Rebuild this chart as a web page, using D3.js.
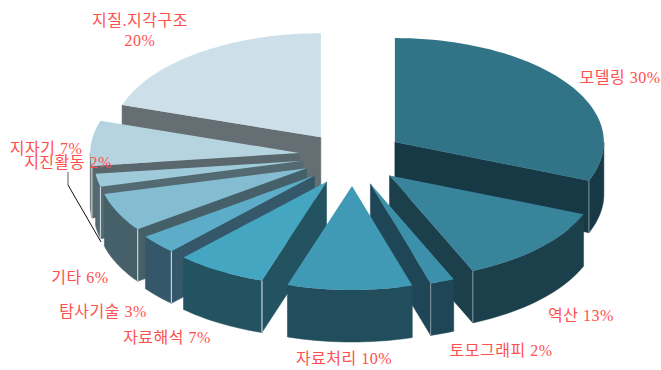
<!DOCTYPE html>
<html lang="ko">
<head>
<meta charset="utf-8">
<style>
  html, body { margin: 0; padding: 0; background: #fff; }
  svg { display: block; }
  text { font-family: "Liberation Serif", "Noto Sans CJK KR", serif; font-size: 16px; letter-spacing: 0.5px; fill: #ff4f4f; text-anchor: middle; }
</style>
</head>
<body>
<svg id="chart" width="661" height="370"></svg>
<script src="https://cdn.jsdelivr.net/npm/d3@7/dist/d3.min.js"></script>
<script>
// Survey topics and their shares, clockwise from twelve o'clock
const topics = ["모델링", "역산", "토모그래피", "자료처리", "자료해석", "탐사기술", "기타", "지진활동", "지자기", "지질.지각구조"];
const shares = [30, 13, 2, 10, 7, 3, 6, 2, 7, 20];

// Face colours per slice
const topColors  = ["#327487", "#38849b", "#3d90a9", "#419ab5", "#45a6c1", "#5dadc8", "#84bcd1", "#9ecad9", "#b6d4e0", "#cddfe8"];
const wallColors = ["#173945", "#1b3f4b", "#1f4656", "#214d5c", "#235360", "#34586a", "#466069", "#536a72", "#5a686d", "#646e73"];

// Label anchors: middle of the text and its baseline
const labelX = [620, 581, 501, 344, 167, 103, 80, 68, 46, 140];
const labelY = [83, 321, 356, 364, 343, 317, 283, 168, 154, 26];

// Projection of the tilted pie
const center = { x: 352, y: 155 };
const radiusX = 209, radiusY = 104, depth = 52;
const explodeXBack = 53, explodeXFront = 50, explodeFront = 31, explodeBack = 22;
const rimSkew = 4 * Math.PI / 180;

const svg = d3.select("#chart");
const slices = d3.pie().sort(null).startAngle(0).endAngle(2 * Math.PI)(shares);

const rimStep = Math.PI / 90;
const line = d3.line();

function apexOf(s) {
  const mid = (s.startAngle + s.endAngle) / 2;
  const c = Math.cos(mid);
  return {
    x: center.x + (c > 0 ? explodeXBack : explodeXFront) * Math.sin(mid),
    y: center.y - (c > 0 ? explodeBack : explodeFront) * c
  };
}
// The right half of the rim is slightly skewed by the tilt of the pie
function rimPoint(apex, a, drop = 0) {
  const t = a < Math.PI ? a + rimSkew * Math.sin(a) : a;
  return [apex.x + radiusX * Math.sin(t), apex.y - radiusY * Math.cos(t) + drop];
}
function rimAngles(a0, a1) {
  const n = Math.max(1, Math.ceil((a1 - a0) / rimStep));
  return d3.range(n + 1).map(i => a0 + (a1 - a0) * i / n);
}

// Paint back to front
const order = d3.range(slices.length).sort((i, j) => {
  const mi = (slices[i].startAngle + slices[i].endAngle) / 2;
  const mj = (slices[j].startAngle + slices[j].endAngle) / 2;
  return d3.ascending(-Math.cos(mi), -Math.cos(mj));
});

order.forEach(i => {
  const s = slices[i];
  const apex = apexOf(s);
  const g = svg.append("g").attr("class", "slice");
  const wall = wallColors[i];

  // Radial side facing the viewer
  const sideAngle = s.endAngle < Math.PI ? s.endAngle : (s.startAngle > Math.PI ? s.startAngle : null);
  if (sideAngle !== null) {
    g.append("path")
      .attr("d", line([[apex.x, apex.y], rimPoint(apex, sideAngle), rimPoint(apex, sideAngle, depth), [apex.x, apex.y + depth]]) + "Z")
      .attr("fill", wall).attr("stroke", wall).attr("stroke-width", 0.5);
  }

  // Outer wall, only the part on the near half of the rim
  const a0 = Math.max(s.startAngle, Math.PI / 2 - rimSkew);
  const a1 = Math.min(s.endAngle, 3 * Math.PI / 2);
  if (a1 > a0) {
    const angles = rimAngles(a0, a1);
    const upper = angles.map(a => rimPoint(apex, a));
    const lower = angles.slice().reverse().map(a => rimPoint(apex, a, depth));
    g.append("path")
      .attr("d", line(upper.concat(lower)) + "Z")
      .attr("fill", wall).attr("stroke", wall).attr("stroke-width", 0.5);
  }

  // Pale crease where the radial side meets the outer wall
  if (sideAngle !== null && sideAngle > Math.PI / 2 && sideAngle < 3 * Math.PI / 2) {
    const top = rimPoint(apex, sideAngle), bottom = rimPoint(apex, sideAngle, depth);
    g.append("line")
      .attr("x1", top[0]).attr("y1", top[1]).attr("x2", bottom[0]).attr("y2", bottom[1])
      .attr("stroke", "#c4d4d9").attr("stroke-width", s.startAngle > Math.PI ? 1.2 : 0.6);
  }

  // Top face
  const rim = rimAngles(s.startAngle, s.endAngle).map(a => rimPoint(apex, a));
  g.append("path")
    .attr("d", line([[apex.x, apex.y]].concat(rim)) + "Z")
    .attr("fill", topColors[i]);
});

// Leader from the 지진활동 label down to its slice
svg.append("path").attr("d", line([[68, 172], [68, 185]]))
  .attr("fill", "none").attr("stroke", "#777").attr("stroke-width", 1.2);
svg.append("path").attr("d", line([[68, 185], [101, 242]]))
  .attr("fill", "none").attr("stroke", "#111").attr("stroke-width", 1);

// Labels
topics.forEach((name, i) => {
  if (name === "지질.지각구조") {
    svg.append("text").attr("x", labelX[i]).attr("y", labelY[i]).text(name);
    svg.append("text").attr("x", labelX[i]).attr("y", labelY[i] + 20).text(shares[i] + "%");
  } else {
    svg.append("text").attr("x", labelX[i]).attr("y", labelY[i]).text(name + " " + shares[i] + "%");
  }
});
</script>
</body>
</html>
